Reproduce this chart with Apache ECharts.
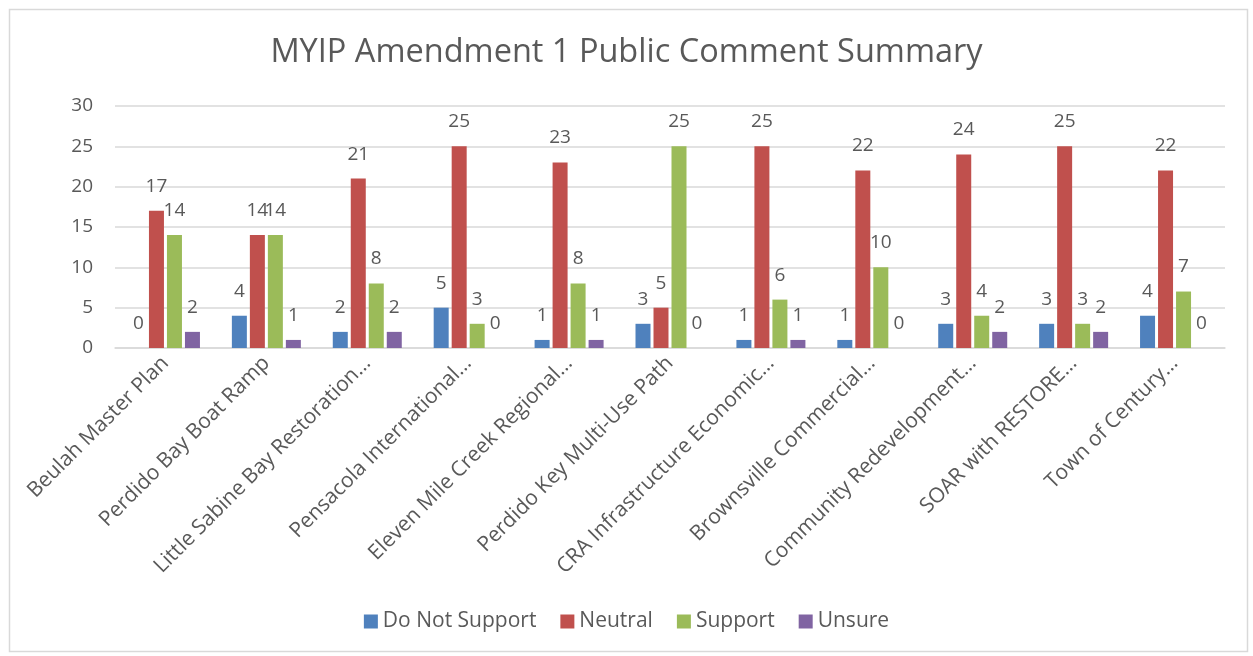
<!DOCTYPE html>
<html><head><meta charset="utf-8">
<script src="https://cdn.jsdelivr.net/npm/echarts@6/dist/echarts.min.js"></script>
<style>html,body{margin:0;padding:0;background:#fff}#c{width:1253px;height:656px}</style>
</head><body><div id="c"></div>
<script>
const categories = ["Beulah Master Plan","Perdido Bay Boat Ramp","Little Sabine Bay Restoration…","Pensacola International…","Eleven Mile Creek Regional…","Perdido Key Multi-Use Path","CRA Infrastructure Economic…","Brownsville Commercial…","Community Redevelopment…","SOAR with RESTORE…","Town of Century…"];
const doNotSupport = [0,4,2,5,1,3,1,1,3,3,4];
const neutral = [17,14,21,25,23,5,25,22,24,25,22];
const support = [14,14,8,3,8,25,6,10,4,3,7];
const unsure = [2,1,2,0,1,0,1,0,2,2,0];
const yTicks = [0,5,10,15,20,25,30];

const FONT = "Open Sans";
const TXT = "#595959";
const chart = echarts.init(document.getElementById('c'));
function s(name, data, color){
  return {name, type:'bar', data, barWidth:15, barGap:'20%',
    itemStyle:{color},
    label:{show:true, position:'top', distance:15, fontSize:19, color:TXT, fontFamily:FONT}};
}
chart.setOption({
  animation:false,
  textStyle:{fontFamily:FONT},
  title:{text:'MYIP Amendment 1 Public Comment Summary', left:'center', top:31,
    textStyle:{fontSize:32.5, fontWeight:'normal', color:TXT, fontFamily:FONT}},
  graphic:[{type:'rect', left:7, top:7, shape:{width:1238, height:642}, style:{fill:'none', stroke:'#d9d9d9', lineWidth:1.5}, silent:true}],
  legend:{bottom:19, left:'center', itemWidth:14, itemHeight:14, itemGap:24,
    icon:'rect', textStyle:{fontSize:21, color:TXT, fontFamily:FONT}},
  grid:{left:115, right:28, top:106, bottom:308, containLabel:false},
  xAxis:{type:'category', data:categories,
    axisLine:{lineStyle:{color:'#d9d9d9', width:1.5}}, axisTick:{show:false},
    axisLabel:{rotate:45, fontSize:21, color:TXT, fontFamily:FONT, margin:12, interval:0}},
  yAxis:{type:'value', min:yTicks[0], max:yTicks[yTicks.length-1], interval:5,
    axisLine:{show:false}, axisTick:{show:false},
    splitLine:{lineStyle:{color:'#d9d9d9', width:1.5}},
    axisLabel:{fontSize:19, color:TXT, fontFamily:FONT, margin:22}},
  series:[s('Do Not Support', doNotSupport, '#4F81BD'), s('Neutral', neutral, '#C0504D'), s('Support', support, '#9BBB59'), s('Unsure', unsure, '#8064A2')]
});
</script></body></html>
